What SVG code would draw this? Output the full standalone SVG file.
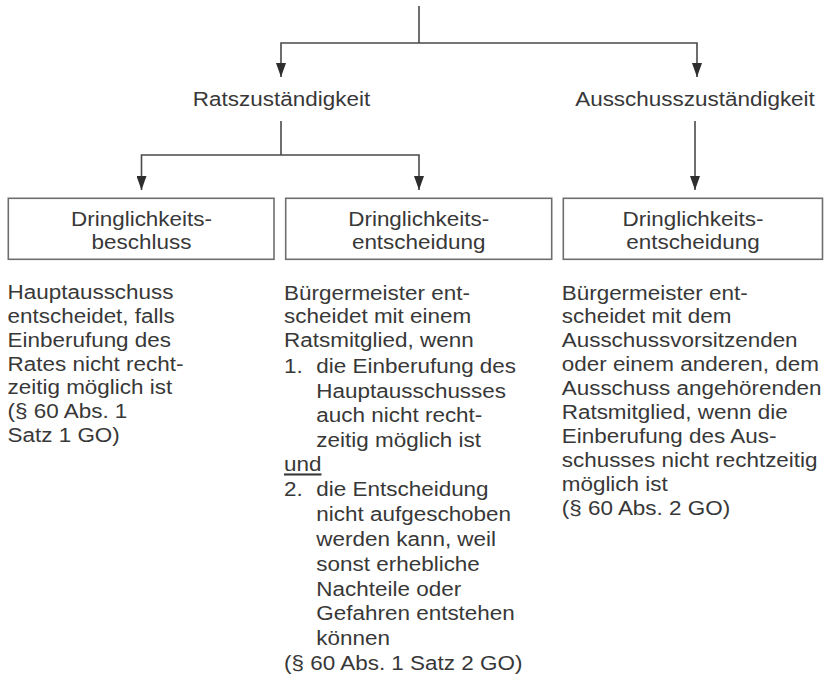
<svg xmlns="http://www.w3.org/2000/svg" width="825" height="676" viewBox="0 0 825 676">
<style>
  text { font-family: "Liberation Sans", Arial, Helvetica, sans-serif; font-size: 21px; fill: #383838; }
  .c { text-anchor: middle; }
  .box { fill: #ffffff; stroke: #6e6e6e; stroke-width: 1.6; }
  .ln { fill: none; stroke: #4a4a4a; stroke-width: 1.6; }
</style>
<defs>
  <marker id="arr" viewBox="0 0 14 10" refX="14" refY="5" markerWidth="14" markerHeight="10" markerUnits="userSpaceOnUse" orient="auto">
    <path d="M0,0 L14,5 L0,10 Z" fill="#2e2e2e"/>
  </marker>
</defs>
<rect width="825" height="676" fill="#ffffff"/>

<g id="connectors">
  <line class="ln" x1="419" y1="6" x2="419" y2="43"/>
  <polyline class="ln" points="419,43 281,43 281,77" marker-end="url(#arr)"/>
  <polyline class="ln" points="419,43 697,43 697,77" marker-end="url(#arr)"/>
  <line class="ln" x1="281" y1="121" x2="281" y2="155"/>
  <polyline class="ln" points="281,155 141.5,155 141.5,190" marker-end="url(#arr)"/>
  <polyline class="ln" points="281,155 419,155 419,190" marker-end="url(#arr)"/>
  <line class="ln" x1="695" y1="121" x2="695" y2="190" marker-end="url(#arr)"/>
</g>

<g id="rat">
  <g transform="translate(281.5,0) scale(1.07,1)"><text class="c" x="0" y="106.5">Ratszuständigkeit</text></g>
</g>
<g id="ausschuss">
  <g transform="translate(695,0) scale(1.07,1)"><text class="c" x="0" y="106.5">Ausschusszuständigkeit</text></g>
</g>

<g id="box1">
  <rect class="box" x="8.3" y="198.3" width="265.7" height="61"/>
  <g transform="translate(141.5,0) scale(1.07,1)">
    <text class="c" x="0" y="226">Dringlichkeits-</text>
    <text class="c" x="0" y="249.5">beschluss</text>
  </g>
</g>
<g id="box2">
  <rect class="box" x="285.7" y="198.3" width="266" height="61"/>
  <g transform="translate(418.7,0) scale(1.07,1)">
    <text class="c" x="0" y="226">Dringlichkeits-</text>
    <text class="c" x="0" y="249.5">entscheidung</text>
  </g>
</g>
<g id="box3">
  <rect class="box" x="563.3" y="198.3" width="259.2" height="61"/>
  <g transform="translate(693,0) scale(1.07,1)">
    <text class="c" x="0" y="226">Dringlichkeits-</text>
    <text class="c" x="0" y="249.5">entscheidung</text>
  </g>
</g>

<g id="text1" transform="translate(7.5,0) scale(1.07,1)">
  <text x="0" y="299.5">Hauptausschuss</text>
  <text x="0" y="323.2">entscheidet, falls</text>
  <text x="0" y="346.9">Einberufung des</text>
  <text x="0" y="370.6">Rates nicht recht-</text>
  <text x="0" y="394.3">zeitig möglich ist</text>
  <text x="0" y="418">(§ 60 Abs. 1</text>
  <text x="0" y="441.7">Satz 1 GO)</text>
</g>

<g id="text2" transform="translate(284,0) scale(1.07,1)">
  <text x="0" y="300">Bürgermeister ent-</text>
  <text x="0" y="323.5">scheidet mit einem</text>
  <text x="0" y="347.5">Ratsmitglied, wenn</text>
  <text x="0" y="373.5">1.<tspan x="30.2">die Einberufung des</tspan></text>
  <text x="30.2" y="398">Hauptausschusses</text>
  <text x="30.2" y="422.5">auch nicht recht-</text>
  <text x="30.2" y="447">zeitig möglich ist</text>
  <text x="0" y="471.5" text-decoration="underline">und</text>
  <text x="0" y="496">2.<tspan x="30.2">die Entscheidung</tspan></text>
  <text x="30.2" y="521">nicht aufgeschoben</text>
  <text x="30.2" y="546">werden kann, weil</text>
  <text x="30.2" y="571">sonst erhebliche</text>
  <text x="30.2" y="596">Nachteile oder</text>
  <text x="30.2" y="620.5">Gefahren entstehen</text>
  <text x="30.2" y="645">können</text>
  <text x="0" y="670">(§ 60 Abs. 1 Satz 2 GO)</text>
</g>

<g id="text3" transform="translate(561.7,0) scale(1.07,1)">
  <text x="0" y="300">Bürgermeister ent-</text>
  <text x="0" y="323.5">scheidet mit dem</text>
  <text x="0" y="347.5">Ausschussvorsitzenden</text>
  <text x="0" y="371.5">oder einem anderen, dem</text>
  <text x="0" y="395.5">Ausschuss angehörenden</text>
  <text x="0" y="419.5">Ratsmitglied, wenn die</text>
  <text x="0" y="443.5">Einberufung des Aus-</text>
  <text x="0" y="467.5">schusses nicht rechtzeitig</text>
  <text x="0" y="491.5">möglich ist</text>
  <text x="0" y="515.5">(§ 60 Abs. 2 GO)</text>
</g>
</svg>
